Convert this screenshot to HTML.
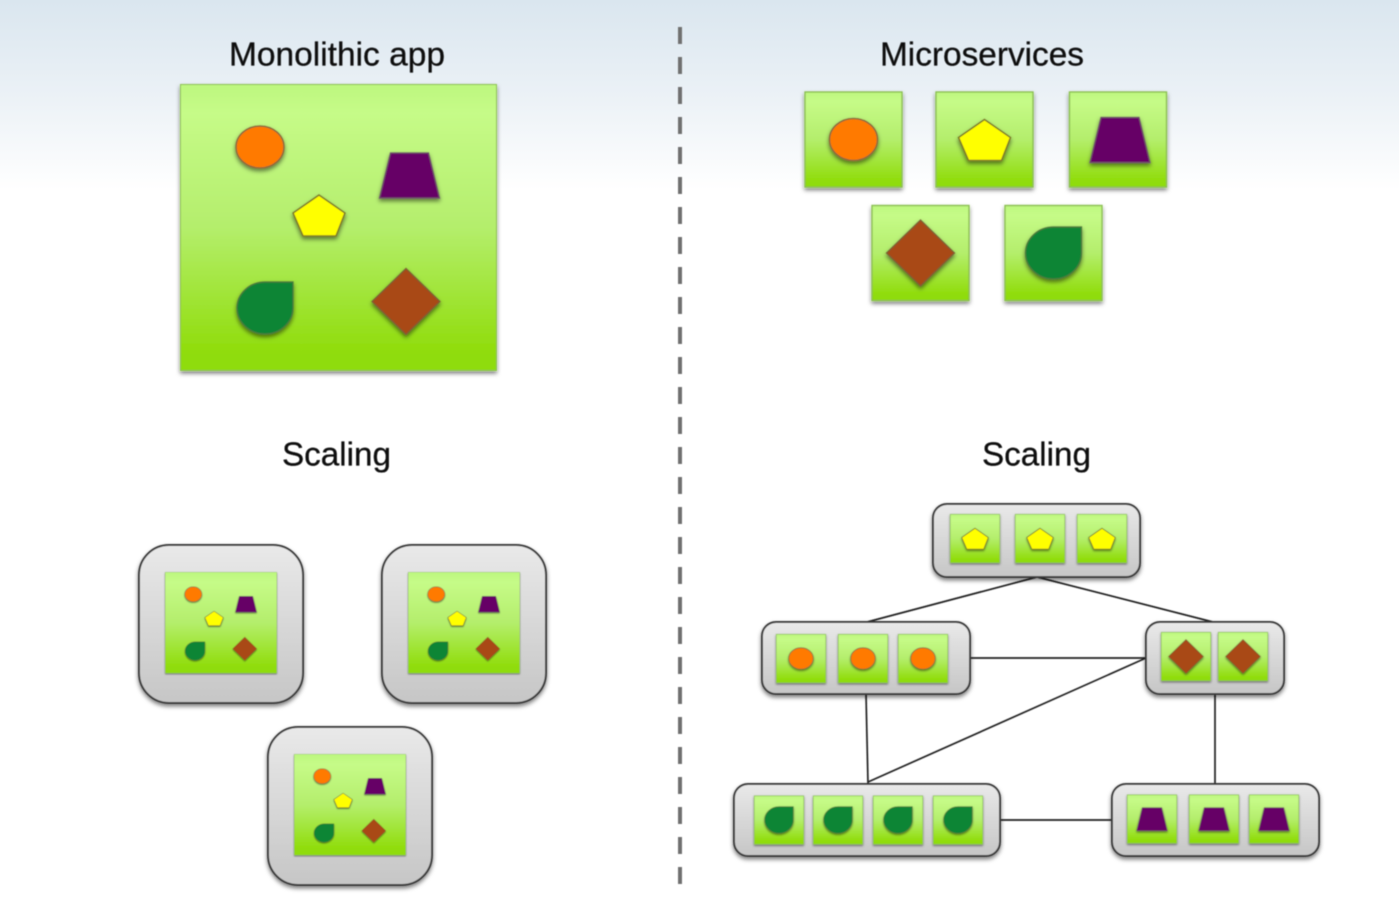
<!DOCTYPE html>
<html><head><meta charset="utf-8"><style>
html,body{margin:0;padding:0;background:#fff;width:1399px;height:900px;overflow:hidden}
svg{display:block}
text{font-family:"Liberation Sans",sans-serif;font-size:33px;fill:#0a0a0a;stroke:#0a0a0a;stroke-width:.25px;text-anchor:start}
</style></head><body>
<svg width="1399" height="900" viewBox="0 0 1399 900" xmlns="http://www.w3.org/2000/svg">
<defs>
<linearGradient id="bg" x1="0" y1="0" x2="0" y2="1"><stop offset="0" stop-color="#dae6ef"/><stop offset=".5" stop-color="#ebf1f6"/><stop offset="1" stop-color="#ffffff"/></linearGradient>
<linearGradient id="gr" x1="0" y1="0" x2="0" y2="1"><stop offset="0" stop-color="#bdf77f"/><stop offset=".1" stop-color="#c6fb88"/><stop offset=".5" stop-color="#b4ee6c"/><stop offset=".95" stop-color="#8fdc08"/><stop offset="1" stop-color="#8fdc08"/></linearGradient>
<linearGradient id="gy" x1="0" y1="0" x2="0" y2="1"><stop offset="0" stop-color="#e9e9e9"/><stop offset="1" stop-color="#c6c6c6"/></linearGradient>
<filter id="soft" x="-5%" y="-5%" width="110%" height="110%"><feGaussianBlur stdDeviation="0.6"/></filter>
<filter id="sh" x="-20%" y="-20%" width="140%" height="150%"><feDropShadow dx="0" dy="2.5" stdDeviation="2" flood-color="#000" flood-opacity=".5"/></filter>
<g id="c"><ellipse rx="24" ry="21" fill="#ff7a00" stroke="#8f6a3a" stroke-width="1.6"/></g>
<g id="p"><polygon points="0,-20 26,-2 17,21 -16,21 -26,-2" fill="#ffff00" stroke="#7f7a28" stroke-width="1.6"/></g>
<g id="t"><polygon points="-19,-22 19,-22 30,23 -30,23" fill="#660066" stroke="#6f5068" stroke-width="1.4"/></g>
<g id="l"><path d="M28,-26 L28,0 A28,26 0 1 1 0,-26 Z" fill="#0a8535" stroke="#4a7a3c" stroke-width="1.4"/></g>
<g id="d"><polygon points="0,-33 34,0 0,33 -34,0" fill="#a94a16" stroke="#7e5e34" stroke-width="1.4"/></g>
<g id="mono">
<rect x=".5" y=".5" width="316" height="286" fill="url(#gr)" stroke="#8cc052" filter="url(#sh)"/>
<use href="#c" x="80" y="63" filter="url(#sh)"/>
<use href="#t" x="229.5" y="91" filter="url(#sh)"/>
<use href="#p" x="139" y="131" filter="url(#sh)"/>
<use href="#l" x="85" y="224" filter="url(#sh)"/>
<use href="#d" x="226" y="217.5" filter="url(#sh)"/>
</g>
<rect id="tile" x="-48.5" y="-47.5" width="97" height="95" fill="url(#gr)" stroke="#8cc052" stroke-width="1.4" filter="url(#sh)"/>
<g id="sc"><use href="#tile"/><use href="#c" filter="url(#sh)"/></g>
<g id="sp"><use href="#tile"/><use href="#p" filter="url(#sh)"/></g>
<g id="st"><use href="#tile"/><use href="#t" filter="url(#sh)"/></g>
<g id="sl"><use href="#tile"/><use href="#l" filter="url(#sh)"/></g>
<g id="sd"><use href="#tile"/><use href="#d" filter="url(#sh)"/></g>
</defs>
<rect width="1399" height="190" fill="url(#bg)"/>
<g filter="url(#soft)">
<line x1="680" y1="27" x2="680" y2="889" stroke="#6f6f6f" stroke-width="4" stroke-dasharray="17 13"/>

<use href="#mono" x="180" y="84"/>

<use href="#sc" transform="translate(853.5,139.5)"/>
<use href="#sp" transform="translate(984.5,139.5)"/>
<use href="#tile" transform="translate(1118,139.5)"/>
<use href="#t" x="1120" y="139.5" filter="url(#sh)"/>
<use href="#sd" transform="translate(920.5,253)"/>
<use href="#sl" transform="translate(1053.5,253)"/>

<g fill="url(#gy)" stroke="#3a3a3a" stroke-width="2">
<rect x="139" y="545" width="164" height="158" rx="30" filter="url(#sh)"/>
<rect x="382" y="545" width="164" height="158" rx="30" filter="url(#sh)"/>
<rect x="268" y="727" width="164" height="158" rx="30" filter="url(#sh)"/>
</g>
<use href="#mono" transform="translate(165,572) scale(.353)"/>
<use href="#mono" transform="translate(408,572) scale(.353)"/>
<use href="#mono" transform="translate(294,754) scale(.353)"/>

<g stroke="#222" stroke-width="1.7" fill="none">
<path d="M867,622 L1037,577 L1213,622"/>
<path d="M970,658 H1146"/>
<path d="M866,694 L868,784"/>
<path d="M868,782 L1146,658"/>
<path d="M1215,694 V784"/>
<path d="M1000,820 H1112"/>
</g>
<g fill="url(#gy)" stroke="#3a3a3a" stroke-width="2">
<rect x="933" y="504" width="207" height="73" rx="14" filter="url(#sh)"/>
<rect x="762" y="622" width="208" height="72" rx="14" filter="url(#sh)"/>
<rect x="1146" y="622" width="138" height="72" rx="14" filter="url(#sh)"/>
<rect x="734" y="784" width="266" height="72" rx="14" filter="url(#sh)"/>
<rect x="1112" y="784" width="207" height="72" rx="14" filter="url(#sh)"/>
</g>
<use href="#sp" transform="translate(975,538.5) scale(.51)"/>
<use href="#sp" transform="translate(1040,538.5) scale(.51)"/>
<use href="#sp" transform="translate(1102,538.5) scale(.51)"/>
<use href="#sc" transform="translate(801,658.5) scale(.51)"/>
<use href="#sc" transform="translate(863,658.5) scale(.51)"/>
<use href="#sc" transform="translate(923,658.5) scale(.51)"/>
<use href="#sd" transform="translate(1186,656.5) scale(.51)"/>
<use href="#sd" transform="translate(1243,656.5) scale(.51)"/>
<use href="#sl" transform="translate(779,820) scale(.51)"/>
<use href="#sl" transform="translate(838,820) scale(.51)"/>
<use href="#sl" transform="translate(898,820) scale(.51)"/>
<use href="#sl" transform="translate(958,820) scale(.51)"/>
<use href="#st" transform="translate(1152,819) scale(.51)"/>
<use href="#st" transform="translate(1214,819) scale(.51)"/>
<use href="#st" transform="translate(1274,819) scale(.51)"/>

<text x="229" y="65.5" textLength="216" lengthAdjust="spacingAndGlyphs">Monolithic app</text>
<text x="880" y="65.5" textLength="204" lengthAdjust="spacingAndGlyphs">Microservices</text>
<text x="282" y="465.5" textLength="109" lengthAdjust="spacingAndGlyphs">Scaling</text>
<text x="982" y="465.5" textLength="109" lengthAdjust="spacingAndGlyphs">Scaling</text>
</g>
</svg>
</body></html>
